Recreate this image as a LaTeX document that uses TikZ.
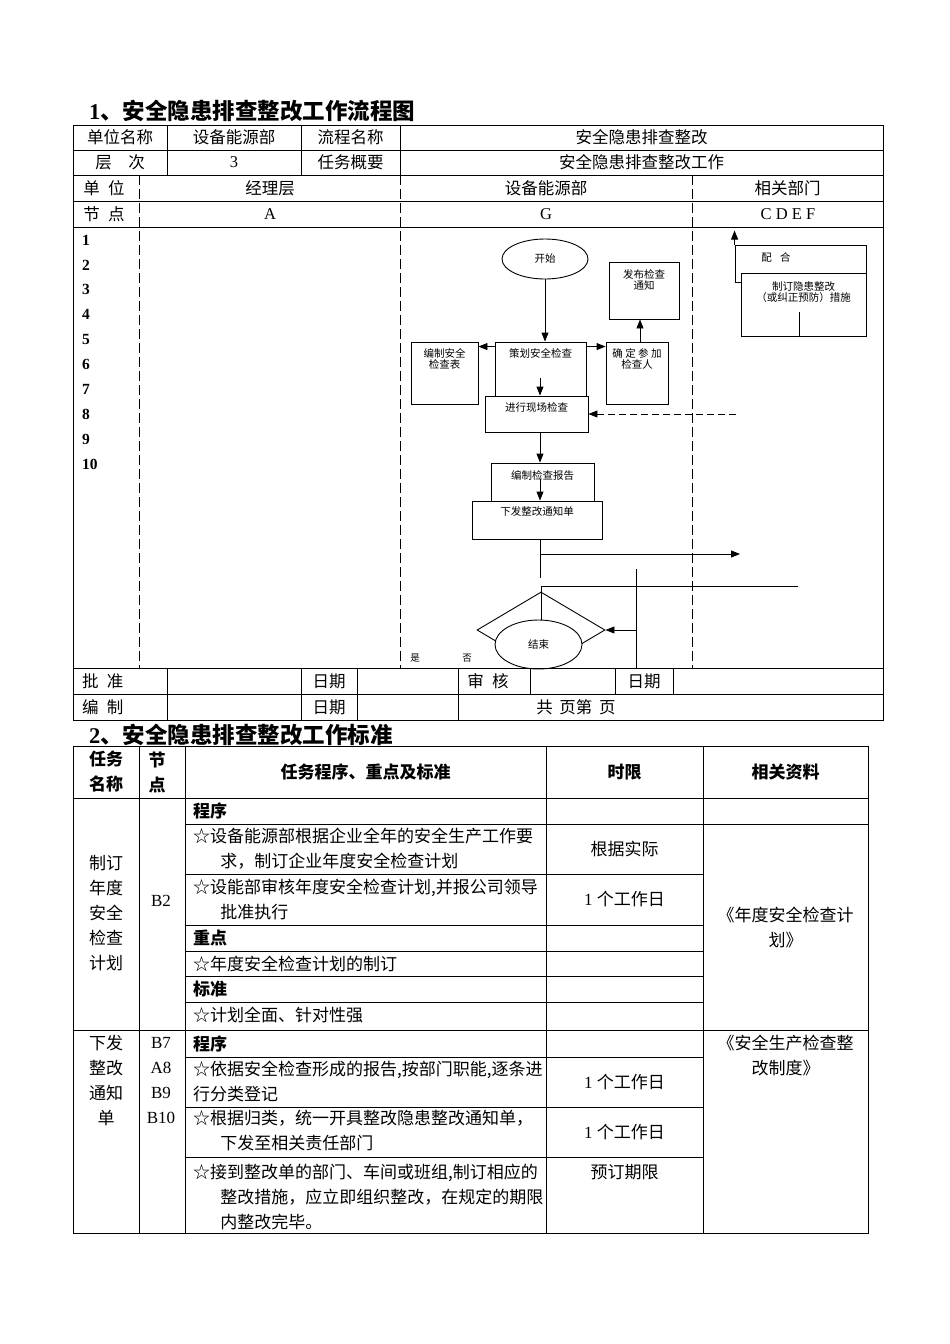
\documentclass[tikz,border=0pt]{standalone}
\usepackage{fontspec}
\setmainfont{Liberation Serif}
\newfontfamily\cjk{Noto Sans CJK SC}
\usetikzlibrary{positioning, shapes.geometric, calc, arrows.meta}

\newcommand\cellfont{\cjk\fontsize{16.5}{25}\selectfont}
\newcommand\stdfont{\cjk\fontsize{17}{25}\selectfont}
\newcommand\boxfont{\cjk\fontsize{10.5}{11}\selectfont}
\newcommand\rmtxt[1]{{\rmfamily #1}}

\begin{document}
\begin{tikzpicture}[
  x=1pt, y=-1pt,
  grid/.style={line width=0.9pt},
  lane/.style={line width=0.8pt, dash pattern=on 10pt off 4pt},
  cell/.style={font=\cellfont, inner sep=0pt},
  stdcell/.style={font=\stdfont, inner sep=0pt, align=left},
  boldcell/.style={stdcell, font=\stdfont\bfseries},
  head/.style={font=\cjk\bfseries\fontsize{22.5}{26}\selectfont, inner sep=0pt, anchor=west},
  rownum/.style={font=\rmfamily\bfseries\fontsize{15.5}{18}\selectfont, inner sep=0pt, anchor=west},
  flowbox/.style={draw, line width=0.9pt, fill=white, inner sep=0pt},
  boxtext/.style={font=\boxfont, align=center, inner sep=0pt},
  flowline/.style={line width=0.9pt},
  arr/.style={flowline, -{Triangle[length=9pt, width=7pt]}},
  dasharr/.style={arr, dash pattern=on 7pt off 4pt},
]
\path[use as bounding box, fill=white] (0,0) rectangle (950,1344);

% --- part 1: flow chart sheet ---
\node[head] (title1) at (89,111) {\rmtxt{1}、安全隐患排查整改工作流程图};

% flow chart boxes
\node[flowbox, ellipse, minimum width=86pt, minimum height=40pt, font=\boxfont] (start) at (545,259) {开始};
\node[flowbox, minimum width=70pt, minimum height=57pt] (notice) at (644,290.5) {};
\node[boxtext, below=8pt of notice.north] (noticetxt) {发布检查\\通知};
\node[flowbox, minimum width=67pt, minimum height=62pt] (sheet) at (444.5,373) {};
\node[boxtext, below=7pt of sheet.north] (sheettxt) {编制安全\\检查表};
\node[flowbox, minimum width=91pt, minimum height=56pt] (plan) at (540.5,370) {};
\node[boxtext, below=7pt of plan.north] (plantxt) {策划安全检查};
\node[flowbox, minimum width=62pt, minimum height=62pt] (confirm) at (637,373) {};
\node[boxtext, below=7pt of confirm.north] (confirmtxt) {确 定 参 加\\检查人};
\node[flowbox, minimum width=103pt, minimum height=36pt] (site) at (536.5,414) {};
\node[boxtext, below=7pt of site.north] (sitetxt) {进行现场检查};
\node[flowbox, minimum width=103pt, minimum height=38pt] (report) at (542.5,482) {};
\node[boxtext, below=8pt of report.north] (reporttxt) {编制检查报告};
\node[flowbox, minimum width=130pt, minimum height=38pt] (issue) at (537,520) {};
\node[boxtext, below=6pt of issue.north] (issuetxt) {下发整改通知单};

\node[flowbox, minimum width=131pt, minimum height=37pt] (coop) at (800.5,263.5) {};
\node[boxtext] (cooptxt) at (776,257) {配\hspace{0.8em}合};
\node[flowbox, minimum width=125pt, minimum height=63pt] (measure) at (803.5,304.5) {};
\node[boxtext, below=9pt of measure.north] (measuretxt) {制订隐患整改\\（或纠正预防）措施};
\draw[flowline] ($(measure.south)+(-4.5,0)$) -- ++(0,-24);

% connectors
\draw[arr] (start.south) -- (start.south |- plan.north);
\coordinate (pl) at ($(plan.north west)+(0,5)$);
\coordinate (pr) at ($(plan.north east)+(0,5)$);
\draw[arr] (pl) -- (pl -| sheet.east);
\draw[arr] (pr) -- (pr -| confirm.west);
\coordinate (cu) at ($(confirm.north)+(3,0)$);
\draw[arr] (cu) -- (cu |- notice.south);
\coordinate (pd) at ($(plan.south)+(-0.5,-20)$);
\draw[arr] (pd) -- (pd |- site.north);
\coordinate (fb) at (736,414);
\draw[dasharr] (fb) -- (site.east);
\draw[arr] ($(site.south)+(3.5,0)$) -- ($(report.north)+(-2.5,0)$);
\coordinate (rd) at ($(report.north)+(-2.5,16)$);
\draw[arr] (rd) -- (rd |- issue.north);
\coordinate (is) at ($(issue.south)+(3,0)$);
\draw[flowline] (is) -- ++(0,39);
\coordinate (out) at (740,554);
\draw[arr] (is |- out) -- (out);
\draw[arr] (coop.north west) -- ++(0,-14);

% check and end
\node[flowbox, diamond, minimum width=128pt, minimum height=76pt] (check) at (541,630) {};
\coordinate (back) at (798,586);
\draw[flowline] (back) -- (back -| check.north) -- (check.center);
\coordinate (ret) at (636,569);
\draw[flowline] (ret) -- (636,668);
\draw[arr] (ret |- check.east) -- (check.east);
\node[flowbox, ellipse, minimum width=87pt, minimum height=49pt, font=\boxfont] (finish) at (538.5,644.5) {结束};
\node[boxtext, font=\cjk\fontsize{9.5}{10}\selectfont] (yes) at (415,658) {是};
\node[boxtext, font=\cjk\fontsize{9.5}{10}\selectfont] (no) at (467,658) {否};

% sheet grid
\draw[grid] (73,125) rectangle (883,720);
\foreach \y in {150,175,201,227,668,694}
  \draw[grid] (73,\y) -- (883,\y);
\foreach \x in {167,301,400}
  \draw[grid] (\x,125) -- (\x,175);
\foreach \x in {139,400,692}
  \draw[lane] (\x,175) -- (\x,668);
\foreach \x in {167,301,357,458}
  \draw[grid] (\x,668) -- (\x,720);
\foreach \x in {530,615,673}
  \draw[grid] (\x,668) -- (\x,694);

% sheet texts
\node[cell] (unitname) at (120,137.5) {单位名称};
\node[cell] (dept) at (234,137.5) {设备能源部};
\node[cell] (procname) at (350.5,137.5) {流程名称};
\node[cell] (proc) at (641.5,137.5) {安全隐患排查整改};
\node[cell] (level) at (120,162.5) {层\hspace{1em}次};
\node[cell] (levelno) at (234,162.5) {\rmtxt{3}};
\node[cell] (summary) at (350.5,162.5) {任务概要};
\node[cell] (task) at (641.5,162.5) {安全隐患排查整改工作};
\node[cell] (unit) at (104,188) {单\hspace{0.5em}位};
\node[cell] (mgr) at (270,188) {经理层};
\node[cell] (equip) at (546,188) {设备能源部};
\node[cell] (related) at (787.5,188) {相关部门};
\node[cell] (nodes) at (104,214) {节\hspace{0.5em}点};
\node[cell] (colA) at (270,214) {\rmtxt{A}};
\node[cell] (colG) at (546,214) {\rmtxt{G}};
\node[cell] (colC) at (788,214) {\rmtxt{C D E F}};
\foreach \n in {1,...,10}
  \node[rownum] (num\n) at (82,{240+24.9*(\n-1)}) {\n};
\node[cell, anchor=west] (approve) at (82,681) {批\hspace{0.5em}准};
\node[cell] (date1) at (329,681) {日期};
\node[cell] (review) at (488,681) {审\hspace{0.5em}核};
\node[cell] (date2) at (644,681) {日期};
\node[cell, anchor=west] (compile) at (82,707) {编\hspace{0.5em}制};
\node[cell] (date3) at (329,707) {日期};
\node[cell] (pages) at (576,707) {共\hspace{0.4em}页第\hspace{0.4em}页};

% --- part 2: work standard table ---
\node[head] (title2) at (89,735) {\rmtxt{2}、安全隐患排查整改工作标准};

\draw[grid] (73,746) rectangle (868,1233);
\foreach \x in {139,185,546,703}
  \draw[grid] (\x,746) -- (\x,1233);
\draw[grid] (73,798) -- (868,798);
\draw[grid] (73,1030) -- (868,1030);
\draw[grid] (185,824) -- (868,824);
\foreach \y in {874,925,951,976,1002,1057,1107,1157}
  \draw[grid] (185,\y) -- (703,\y);

% header
\node[boldcell, align=center] (hname) at (106,772) {任务\\名称};
\node[boldcell, align=center] (hnode) at (157,772) {节\\点};
\node[boldcell] (hstd) at (365.5,772) {任务程序、重点及标准};
\node[boldcell] (htime) at (624.5,772) {时限};
\node[boldcell] (hdoc) at (785.5,772) {相关资料};

% block 1
\node[stdcell, align=center] (task1) at (106,913) {制订\\年度\\安全\\检查\\计划};
\node[stdcell] (node1) at (161,901) {\rmtxt{B2}};
\node[boldcell, anchor=west] (prog1) at (193,811) {程序};
\node[stdcell, anchor=west] (step1) at (193,849) {☆设备能源部根据企业全年的安全生产工作要\\\hspace*{1.6em}求，制订企业年度安全检查计划};
\node[stdcell, anchor=west] (step2) at (193,899.5) {☆设能部审核年度安全检查计划,并报公司领导\\\hspace*{1.6em}批准执行};
\node[boldcell, anchor=west] (key1) at (193,938) {重点};
\node[stdcell, anchor=west] (step3) at (193,963.5) {☆年度安全检查计划的制订};
\node[boldcell, anchor=west] (norm1) at (193,989) {标准};
\node[stdcell, anchor=west] (step4) at (193,1015) {☆计划全面、针对性强};
\node[stdcell] (time1) at (624.5,849) {根据实际};
\node[stdcell] (time2) at (624.5,899.5) {\rmtxt{1}\hspace{0.25em}个工作日};
\node[stdcell, align=center] (doc1) at (785.5,927.5) {《年度安全检查计\\划》};

% block 2
\node[stdcell, align=center] (task2) at (106,1080.5) {下发\\整改\\通知\\单};
\node[stdcell, align=center, font=\rmfamily\fontsize{17}{25}\selectfont] (node2) at (161,1080.5) {B7\\A8\\B9\\B10};
\node[boldcell, anchor=west] (prog2) at (193,1043.5) {程序};
\node[stdcell, anchor=west] (step5) at (193,1081) {☆依据安全检查形成的报告,按部门职能,逐条进\\行分类登记};
\node[stdcell, anchor=west] (step6) at (193,1131) {☆根据归类，统一开具整改隐患整改通知单，\\\hspace*{1.6em}下发至相关责任部门};
\node[stdcell, anchor=west] (step7) at (193,1197) {☆接到整改单的部门、车间或班组,制订相应的\\\hspace*{1.6em}整改措施，应立即组织整改，在规定的期限\\\hspace*{1.6em}内整改完毕。};
\node[stdcell] (time3) at (624.5,1082) {\rmtxt{1}\hspace{0.25em}个工作日};
\node[stdcell] (time4) at (624.5,1132) {\rmtxt{1}\hspace{0.25em}个工作日};
\node[stdcell] (time5) at (624.5,1172) {预订期限};
\node[stdcell, align=center] (doc2) at (785.5,1055.5) {《安全生产检查整\\改制度》};

\end{tikzpicture}
\end{document}
